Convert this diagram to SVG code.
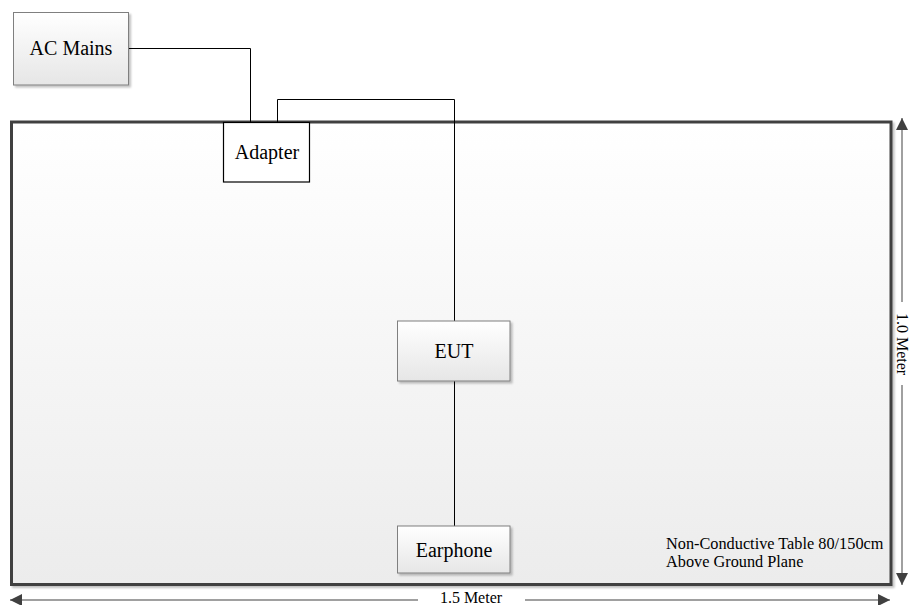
<svg xmlns="http://www.w3.org/2000/svg" width="911" height="605" viewBox="0 0 911 605">
<defs>
<linearGradient id="tableG" x1="0" y1="0" x2="0" y2="1">
<stop offset="0" stop-color="#ffffff"/>
<stop offset="1" stop-color="#ececec"/>
</linearGradient>
<linearGradient id="boxG" x1="0" y1="0" x2="0" y2="1">
<stop offset="0" stop-color="#ffffff"/>
<stop offset="1" stop-color="#e6e6e6"/>
</linearGradient>
<filter id="sh" x="-10%" y="-10%" width="130%" height="130%">
<feGaussianBlur in="SourceAlpha" stdDeviation="1.2"/>
<feOffset dx="2" dy="2" result="b"/>
<feComponentTransfer><feFuncA type="linear" slope="0.25"/></feComponentTransfer>
<feMerge><feMergeNode/><feMergeNode in="SourceGraphic"/></feMerge>
</filter>
<marker id="ah" viewBox="0 0 12 12" refX="12" refY="6" markerWidth="12" markerHeight="12" markerUnits="userSpaceOnUse" orient="auto-start-reverse">
<path d="M0,0 L12,6 L0,12 Z" fill="#404040"/>
</marker>
</defs>
<style>
.lbl{font-family:"Liberation Serif","Times New Roman",serif;fill:#000;}
.box{fill:url(#boxG);stroke:#7f7f7f;stroke-width:1;filter:url(#sh);}
.wire{fill:none;stroke:#000;stroke-width:1;}
.dim{fill:none;stroke:#808080;stroke-width:1.5;}
</style>
<g id="table">
<rect x="11.5" y="122" width="879.5" height="462.5" fill="url(#tableG)" stroke="#404040" stroke-width="3" filter="url(#sh)"/>
<text class="lbl" x="666" y="549" font-size="16.3">Non-Conductive Table 80/150cm</text>
<text class="lbl" x="666" y="567" font-size="16.3">Above Ground Plane</text>
</g>
<g id="connectors">
<polyline class="wire" points="128,48.5 250.5,48.5 250.5,122"/>
<polyline class="wire" points="277.5,122 277.5,99.5 454.5,99.5 454.5,321"/>
<line class="wire" x1="454.5" y1="381" x2="454.5" y2="526"/>
</g>
<g id="ac-mains">
<rect class="box" x="13.5" y="12.5" width="115" height="72.5"/>
<text class="lbl" x="71" y="55" font-size="20" text-anchor="middle">AC Mains</text>
</g>
<g id="adapter">
<rect x="223.5" y="122.5" width="86" height="59.5" fill="#fff" stroke="#000" stroke-width="1.2"/>
<text class="lbl" x="267" y="159" font-size="20" text-anchor="middle">Adapter</text>
</g>
<g id="eut">
<rect class="box" x="397.5" y="321" width="112.5" height="60"/>
<text class="lbl" x="454" y="358" font-size="20" text-anchor="middle">EUT</text>
</g>
<g id="earphone">
<rect class="box" x="397.5" y="526" width="112.5" height="47"/>
<text class="lbl" x="454" y="557" font-size="20" text-anchor="middle">Earphone</text>
</g>
<g id="dimensions">
<line class="dim" x1="10" y1="600" x2="418" y2="600" marker-start="url(#ah)"/>
<line class="dim" x1="525" y1="600" x2="890" y2="600" marker-end="url(#ah)"/>
<text class="lbl" x="471" y="603" font-size="16" text-anchor="middle">1.5 Meter</text>
<line class="dim" x1="902" y1="118" x2="902" y2="302" marker-start="url(#ah)"/>
<line class="dim" x1="902" y1="385" x2="902" y2="585" marker-end="url(#ah)"/>
<text class="lbl" transform="translate(897,344) rotate(90)" font-size="16" text-anchor="middle">1.0 Meter</text>
</g>
</svg>
